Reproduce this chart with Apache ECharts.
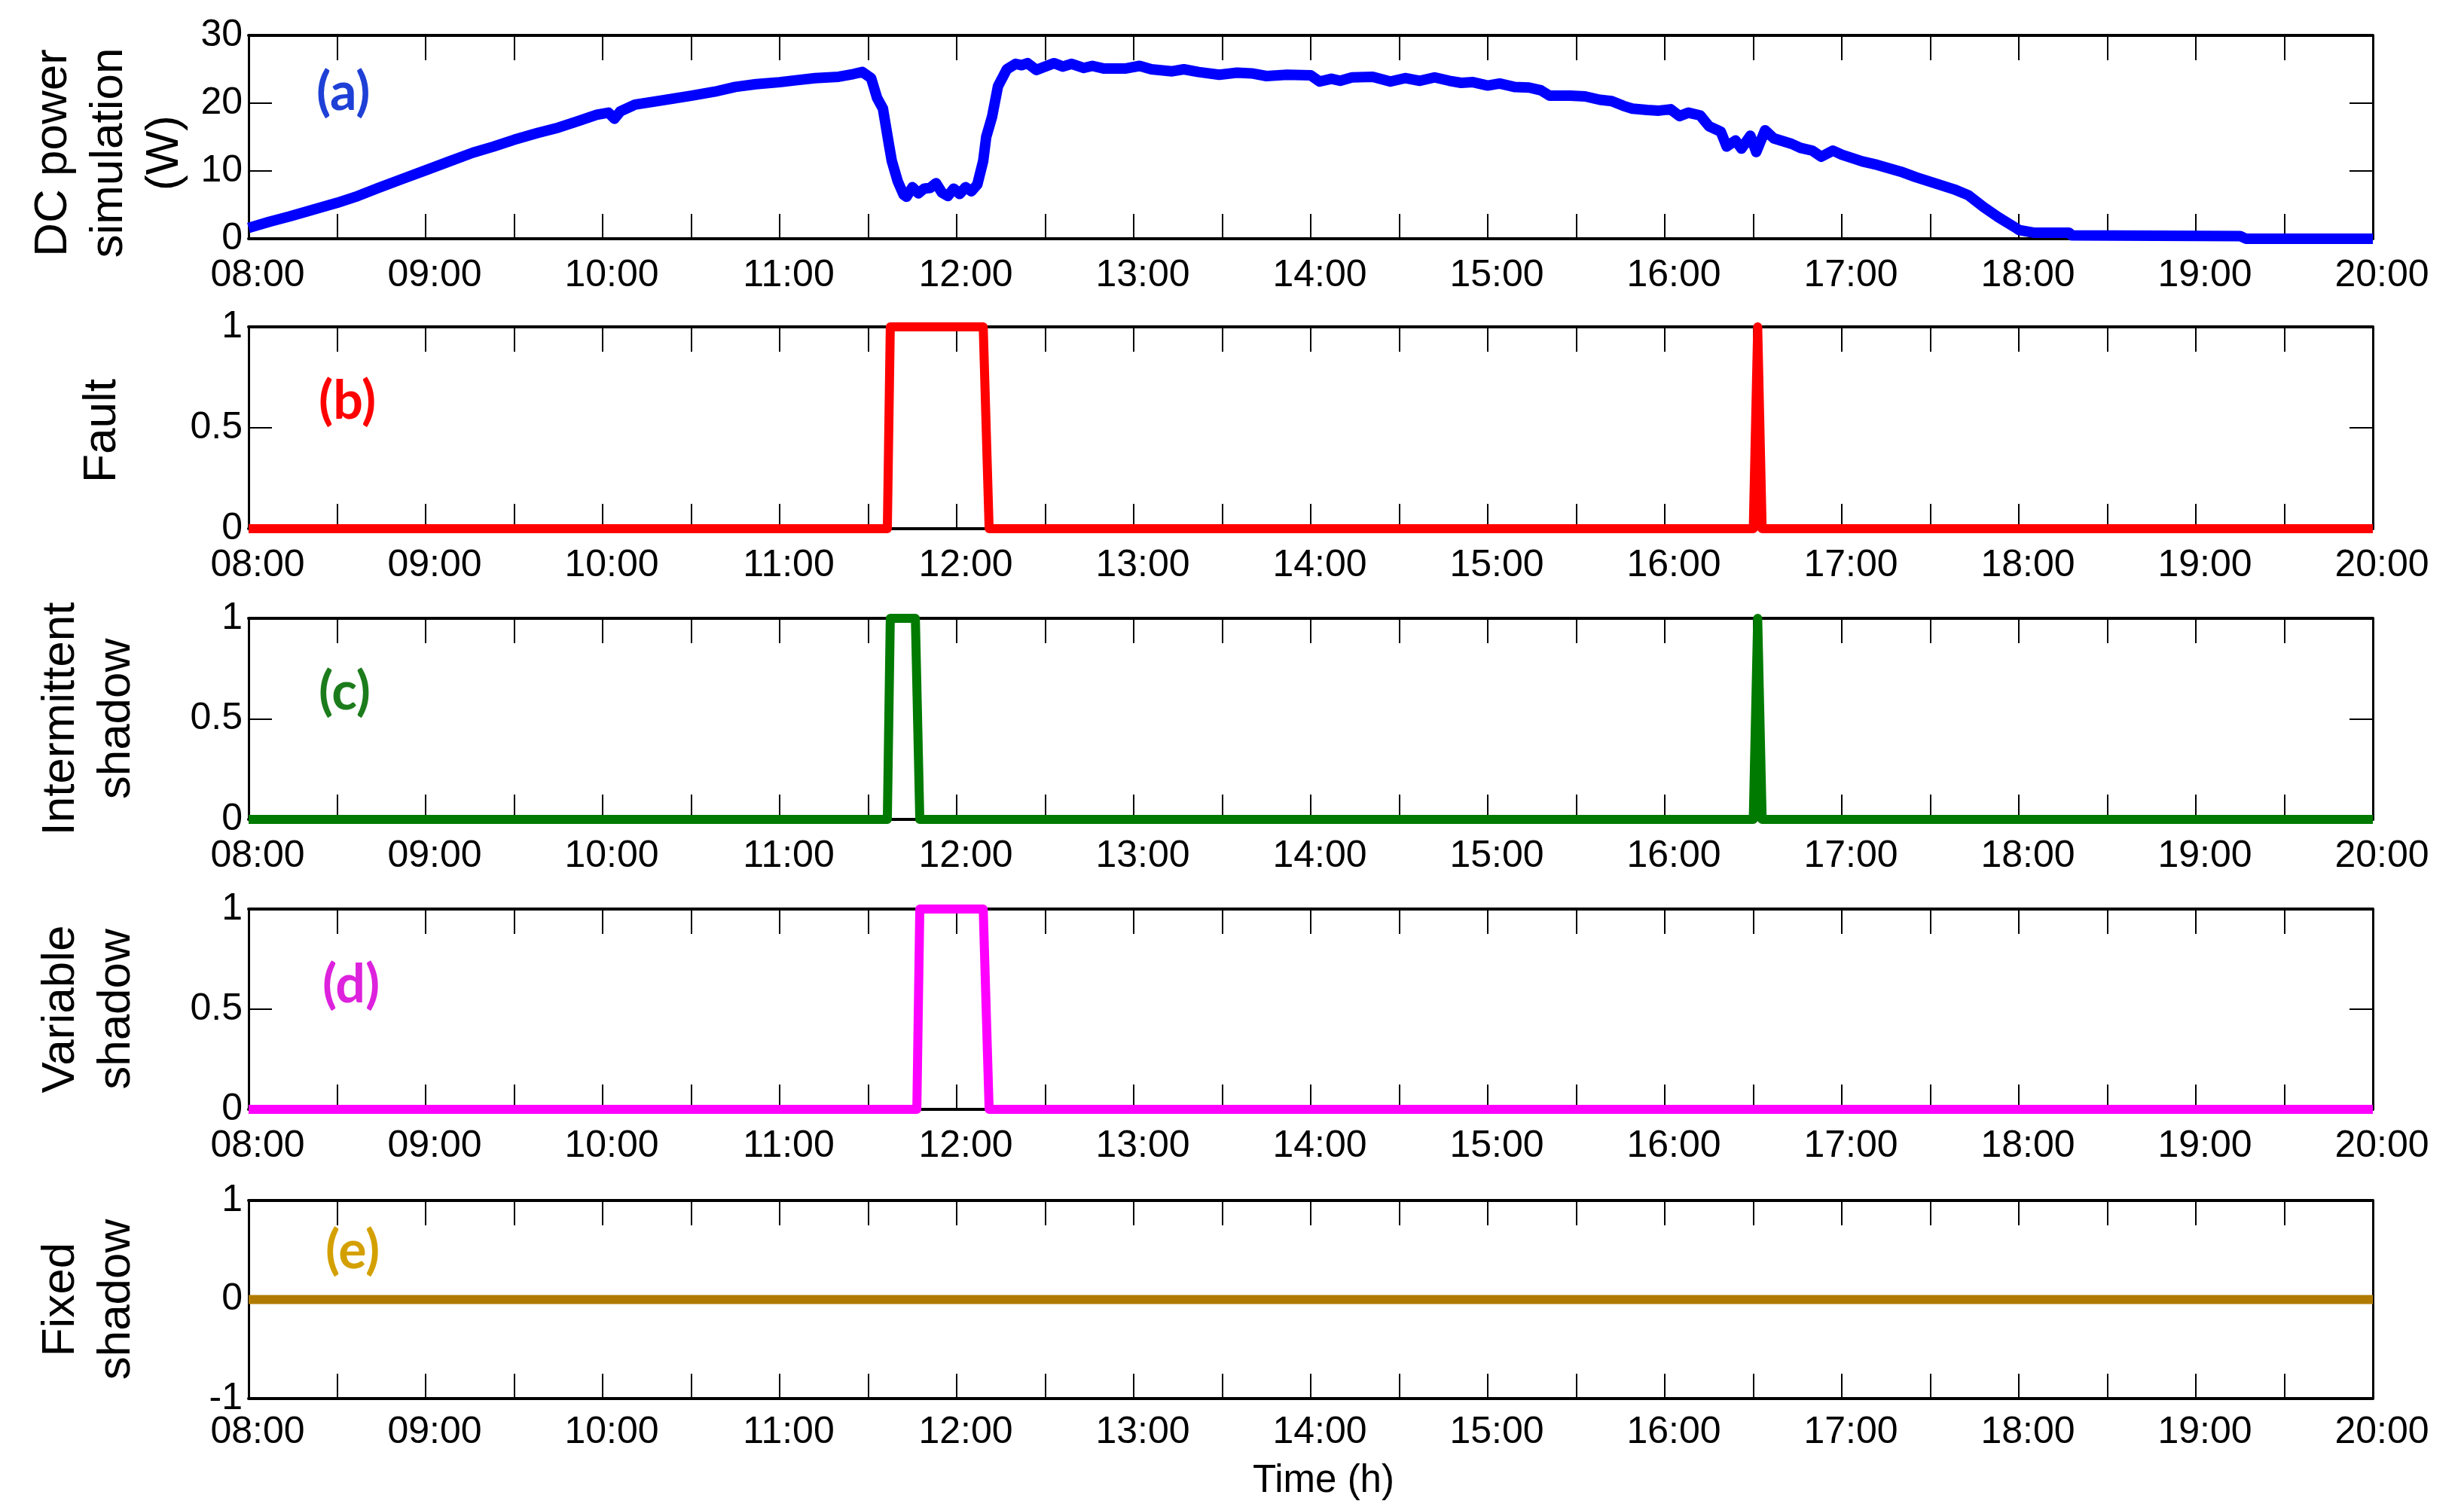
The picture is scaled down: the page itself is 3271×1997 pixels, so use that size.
<!DOCTYPE html>
<html><head><meta charset="utf-8">
<script src="https://cdn.jsdelivr.net/npm/echarts@6/dist/echarts.min.js"></script>
<style>html,body{margin:0;padding:0;background:#fff}#c{width:3271px;height:1997px}</style>
</head><body><div id="c"></div>
<script>
// ---- data ----
const xStart = '08:00';
const xEnd = '20:00';
const tickStepMin = 30;

const powerTime = ['08:00','08:07','08:14','08:22','08:30','08:37','08:44','08:52','09:00','09:08','09:16','09:23','09:30','09:38','09:45','09:52','09:58','10:02','10:04','10:06','10:11','10:20','10:30','10:38','10:45','10:52','11:00','11:06','11:12','11:20','11:25','11:28','11:31','11:33','11:35','11:37','11:38','11:40','11:42','11:43','11:45','11:47','11:49','11:51','11:53','11:55','11:57','11:59','12:01','12:03','12:05','12:07','12:09','12:10','12:12','12:14','12:17','12:20','12:22','12:24','12:27','12:30','12:33','12:36','12:39','12:43','12:46','12:50','12:57','13:02','13:06','13:13','13:17','13:22','13:29','13:35','13:40','13:45','13:52','14:00','14:03','14:07','14:10','14:14','14:21','14:27','14:32','14:37','14:42','14:47','14:51','14:55','15:00','15:04','15:09','15:14','15:18','15:21','15:28','15:33','15:38','15:42','15:46','15:49','15:54','15:58','16:02','16:05','16:08','16:12','16:15','16:19','16:21','16:24','16:26','16:29','16:31','16:34','16:37','16:43','16:46','16:50','16:53','16:57','17:00','17:07','17:12','17:20','17:25','17:30','17:38','17:43','17:48','17:53','17:59','18:00','18:05','18:17','18:18','19:15','19:17','20:00'];
const powerW = [1.6,2.5,3.3,4.3,5.3,6.3,7.5,8.8,10.1,11.4,12.7,13.6,14.6,15.6,16.4,17.4,18.3,18.6,17.7,18.8,19.8,20.4,21.1,21.7,22.4,22.8,23.1,23.4,23.7,23.9,24.3,24.6,23.7,20.8,19.2,14.0,11.5,8.5,6.5,6.2,7.6,6.7,7.4,7.5,8.2,6.8,6.3,7.4,6.6,7.6,7.0,8.0,11.5,15.0,18.0,22.5,25.0,25.8,25.6,25.9,24.9,25.4,25.9,25.4,25.8,25.2,25.5,25.1,25.1,25.5,25.0,24.7,25.0,24.6,24.2,24.5,24.4,24.0,24.2,24.1,23.2,23.6,23.3,23.8,23.9,23.2,23.7,23.3,23.8,23.3,23.0,23.1,22.6,22.9,22.4,22.3,21.9,21.1,21.1,21.0,20.5,20.3,19.6,19.2,19.0,18.9,19.1,18.1,18.6,18.2,16.6,15.8,13.6,14.5,13.3,15.2,12.8,16.0,14.8,14.0,13.4,13.0,12.1,13.0,12.4,11.4,10.9,9.9,9.1,8.4,7.3,6.4,4.7,3.2,1.6,1.3,0.9,0.9,0.5,0.4,0.0,0.0];

const faultTime = ['08:00','11:36.5','11:37.5','12:09','12:11','16:30','16:31.5','16:33','20:00'];
const faultVal  = [0,0,1,1,0,0,1,0,0];
const interTime = ['08:00','11:36.5','11:37.5','11:46','11:47.5','16:30','16:31.5','16:33','20:00'];
const interVal  = [0,0,1,1,0,0,1,0,0];
const varTime   = ['08:00','11:46.5','11:47.5','12:09','12:11','20:00'];
const varVal    = [0,0,1,1,0,0];
const fixedTime = ['08:00','20:00'];
const fixedVal  = [0,0];

const panelNames  = ['DC power\nsimulation\n(W)','Fault','Intermittent\nshadow','Variable\nshadow','Fixed\nshadow'];
const panelTags   = ['(a)','(b)','(c)','(d)','(e)'];
const yMin = [0,0,0,0,-1];
const yMax = [30,1,1,1,1];
const yStep = [10,0.5,0.5,0.5,1];
const xTitle = 'Time (h)';

// ---- helpers ----
function toMin(s){const p=s.split(':');return (+p[0])*60+parseFloat(p[1]);}
function pairs(t,v){return t.map((s,i)=>[toMin(s),v[i]]);}
function fmt(v){if(v%60!==0)return '';const h=v/60;return (h<10?'0':'')+h+':00';}

const FONT = 'Liberation Sans, Arial, sans-serif';
const lineColors = ['#0000ff','#ff0000','#007a00','#ff00ff','#b07a00'];
const tagColors  = ['#1e40d6','#ff0000','#1c7c1c','#dd22dd','#d4a000'];
const lineWidths = [14,12,12,12,12];
const seriesData = [pairs(powerTime,powerW),pairs(faultTime,faultVal),pairs(interTime,interVal),pairs(varTime,varVal),pairs(fixedTime,fixedVal)];

const L=330, R=121;
const tops=[47,434,821,1207,1594];
const H=[270,268,267,266,263];
const nameGaps=[73,157,138,138,138];
const namePad=[[0,42,0,0],[0,8,0,0],[0,0,0,0],[0,0,0,0],[0,0,0,0]];
const tagPos=[[460,130],[463,540],[463,926],[468,1315],[472,1668]];

const grid=[],xAxis=[],yAxis=[],series=[],graphic=[];
for(let i=0;i<5;i++){
  grid.push({left:L,right:R,top:tops[i],height:H[i],containLabel:false});
  const base={type:'value',gridIndex:i,min:toMin(xStart),max:toMin(xEnd),interval:tickStepMin,
    axisLine:{show:true,onZero:false,lineStyle:{color:'#000',width:4}},
    axisTick:{show:true,inside:true,length:33,lineStyle:{color:'#000',width:2}},
    splitLine:{show:false}};
  xAxis.push(Object.assign({},base,{position:'bottom',
    axisLabel:{show:true,formatter:fmt,fontSize:50,fontFamily:FONT,color:'#000',margin:i===4?20:24,padding:[0,0,0,24],hideOverlap:false},
    name: i===4?xTitle:'', nameLocation:'middle', nameGap:84,
    nameTextStyle:{fontSize:51,fontFamily:FONT,color:'#000',padding:[0,0,0,34]}}));
  xAxis.push(Object.assign({},base,{position:'top',axisLabel:{show:false}}));
  const yb={type:'value',gridIndex:i,min:yMin[i],max:yMax[i],interval:yStep[i],
    axisLine:{show:true,onZero:false,lineStyle:{color:'#000',width:3}},
    axisTick:{show:true,inside:true,length:31,lineStyle:{color:'#000',width:2}},
    splitLine:{show:false}};
  yAxis.push(Object.assign({},yb,{position:'left',
    axisLabel:{show:true,fontSize:50,fontFamily:FONT,color:'#000',margin:8},
    name:panelNames[i],nameLocation:'middle',nameRotate:90,nameGap:nameGaps[i],
    nameTextStyle:{fontSize:62,lineHeight:74,fontFamily:FONT,color:'#000',align:'center',padding:namePad[i]}}));
  yAxis.push(Object.assign({},yb,{position:'right',axisLabel:{show:false}}));
  series.push({type:'line',xAxisIndex:2*i,yAxisIndex:2*i,data:seriesData[i],showSymbol:false,symbol:'none',
    clip:false,z:5,animation:false,
    lineStyle:{color:lineColors[i],width:lineWidths[i],join:'round',cap:'butt'}});
  graphic.push({type:'text',left:tagPos[i][0]-40,top:tagPos[i][1]-42,
    style:{text:panelTags[i],fill:tagColors[i],font:'bold 70px Lato, "Open Sans", sans-serif'}});
}

const chart=echarts.init(document.getElementById('c'),null,{renderer:'canvas'});
chart.setOption({animation:false,backgroundColor:'#fff',grid,xAxis,yAxis,series,graphic});
</script></body></html>
